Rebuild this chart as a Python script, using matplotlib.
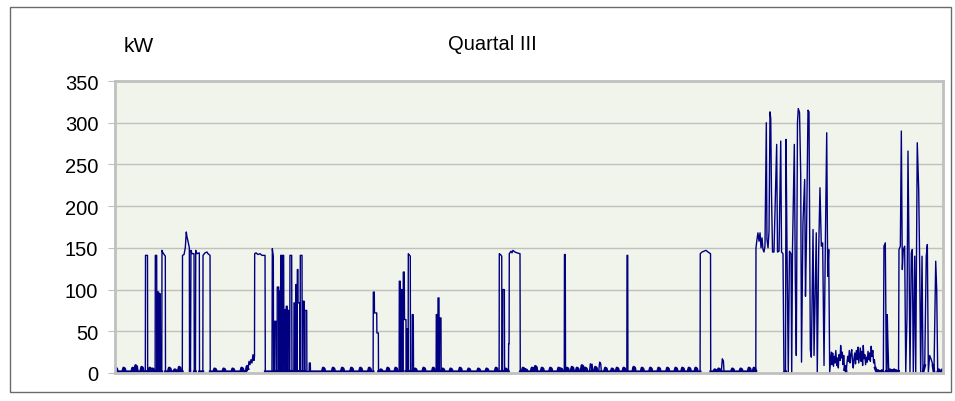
import numpy as np
import matplotlib.pyplot as plt
from matplotlib.patches import Rectangle

plt.rcParams['font.family'] = ['Liberation Sans', 'DejaVu Sans']

# Load profile, quarter III (time in days since 1 July, power in kW)
trace = [
    (0.00, 1.5),
    (3.37, 1.5), (3.39, 141), (3.61, 141), (3.63, 1.5),
    (4.46, 1.5), (4.48, 141), (4.63, 141), (4.66, 1.5),
    (4.68, 1.5), (4.70, 97), (4.86, 97), (4.87, 2), (4.88, 2), (4.89, 95), (5.03, 95), (5.06, 1.5),
    (5.20, 1.5), (5.22, 147), (5.33, 144), (5.59, 140), (5.61, 1.5),
    (7.48, 1.5), (7.50, 141), (7.67, 142), (7.81, 150), (7.92, 169), (8.00, 163), (8.11, 158),
    (8.26, 150), (8.28, 1.5), (8.33, 14), (8.39, 1.5), (8.44, 147), (8.56, 143), (8.78, 143),
    (8.81, 1.5), (8.94, 1.5), (8.97, 147), (9.11, 143), (9.37, 144), (9.39, 1.5),
    (9.76, 1.5), (9.78, 141), (10.00, 144), (10.22, 145), (10.33, 143), (10.56, 141), (10.58, 1.5),
    (14.56, 2), (14.67, 8), (14.78, 5), (14.89, 14), (15.00, 10), (15.11, 16), (15.22, 12),
    (15.33, 22), (15.44, 15), (15.50, 20), (15.52, 143), (15.67, 144), (15.89, 142), (16.11, 143),
    (16.33, 141), (16.67, 141), (16.70, 1.5),
    (17.44, 1.5), (17.48, 149), (17.59, 140), (17.62, 1.5),
    (17.72, 1.5), (17.74, 62), (17.89, 62), (17.92, 1.5),
    (18.01, 1.5), (18.03, 103), (18.19, 103), (18.21, 2), (18.23, 2), (18.26, 98), (18.37, 98),
    (18.39, 2), (18.40, 2), (18.41, 141), (18.52, 141), (18.54, 2),
    (18.61, 2), (18.63, 141), (18.74, 141), (18.77, 2),
    (18.87, 2), (18.89, 76), (19.00, 76), (19.01, 2), (19.02, 2), (19.03, 80), (19.14, 80),
    (19.16, 2), (19.17, 2), (19.19, 75), (19.33, 75), (19.36, 2),
    (19.42, 2), (19.44, 141), (19.63, 141), (19.66, 2),
    (19.87, 2), (19.89, 84), (20.00, 84), (20.02, 2), (20.06, 2), (20.08, 106), (20.19, 106),
    (20.21, 2), (20.23, 2), (20.26, 124), (20.33, 124), (20.34, 84), (20.52, 84), (20.54, 2),
    (20.57, 2), (20.59, 141), (20.78, 141), (20.80, 2),
    (20.87, 2), (20.89, 86), (21.03, 86), (21.06, 2), (21.09, 2), (21.11, 75), (21.30, 75),
    (21.32, 1), (21.57, 1), (21.59, 12), (21.70, 12), (21.72, 1.5),
    (28.68, 1.5), (28.70, 97), (28.81, 97), (28.83, 72), (29.08, 72), (29.10, 48), (29.26, 48),
    (29.28, 1.5),
    (31.57, 1.5), (31.59, 110), (31.70, 110), (31.72, 2), (31.76, 2), (31.78, 100), (31.92, 100),
    (31.94, 2), (32.01, 2), (32.03, 121), (32.14, 121), (32.17, 64), (32.33, 64), (32.36, 2),
    (32.39, 2), (32.41, 53), (32.52, 53), (32.54, 2), (32.57, 2), (32.59, 143), (32.81, 140),
    (32.83, 2), (33.01, 2), (33.03, 70), (33.14, 70), (33.17, 1.5),
    (35.68, 1.5), (35.70, 70), (35.81, 70), (35.83, 2), (35.87, 2), (35.89, 90), (36.00, 90),
    (36.02, 2), (36.06, 2), (36.08, 66), (36.22, 66), (36.24, 1.5),
    (42.68, 1.5), (42.70, 143), (42.83, 142), (42.97, 140), (42.99, 2), (43.06, 2), (43.08, 100),
    (43.26, 100), (43.28, 1.5), (43.72, 1.5), (43.74, 35), (43.79, 35), (43.81, 143),
    (44.00, 146), (44.11, 144), (44.22, 147), (44.44, 145), (44.67, 144), (45.00, 143), (45.03, 1.5),
    (49.92, 1.5), (49.94, 142), (50.03, 142), (50.06, 1.5),
    (56.87, 1.5), (56.89, 141), (56.97, 141), (56.99, 1.5),
    (65.01, 1.5), (65.03, 143), (65.22, 145), (65.44, 146), (65.67, 147), (65.89, 145),
    (66.17, 143), (66.19, 1.5),
    (71.20, 2), (71.22, 150), (71.33, 160), (71.44, 168), (71.56, 158), (71.67, 168), (71.78, 150),
    (71.89, 162), (72.00, 148), (72.11, 145), (72.22, 152), (72.37, 300), (72.44, 160),
    (72.56, 150), (72.67, 170), (72.78, 313), (72.86, 305), (72.94, 216), (73.06, 145),
    (73.22, 145), (73.52, 274), (73.61, 145), (73.78, 146), (73.97, 278), (74.06, 145),
    (74.22, 143), (74.33, 0), (74.50, 2), (74.56, 280), (74.67, 146), (74.81, 0), (74.94, 146),
    (75.11, 143), (75.19, 0), (75.28, 150), (75.48, 274), (75.59, 112), (75.70, 21),
    (75.83, 300), (75.92, 317), (76.06, 312), (76.19, 238), (76.28, 13), (76.44, 180),
    (76.63, 232), (76.72, 92), (76.83, 160), (77.00, 315), (77.11, 313), (77.19, 160),
    (77.26, 28), (77.37, 19), (77.56, 172), (77.67, 21), (77.92, 168), (78.03, 1),
    (78.19, 148), (78.33, 222), (78.48, 152), (78.63, 156), (78.78, 9), (78.92, 148),
    (79.08, 288), (79.19, 116), (79.30, 148), (79.41, 1), (79.59, 25),
    (79.67, 10), (79.74, 24), (79.83, 8), (79.92, 20), (80.00, 12), (80.09, 27), (80.19, 9),
    (80.28, 18), (80.37, 6), (80.44, 22), (80.56, 15), (80.63, 33), (80.72, 18), (80.81, 25),
    (80.89, 10), (80.97, 21), (81.06, 4), (81.14, 8), (81.24, 1), (81.33, 12), (81.41, 20),
    (81.50, 14), (81.59, 27), (81.67, 12), (81.76, 22), (81.86, 28), (81.94, 14), (82.03, 6),
    (82.11, 18), (82.20, 24), (82.28, 11), (82.37, 27), (82.47, 16), (82.56, 31), (82.64, 12),
    (82.73, 22), (82.81, 30), (82.89, 14), (82.98, 26), (83.07, 9), (83.14, 33), (83.22, 17),
    (83.31, 22), (83.40, 10), (83.49, 19), (83.58, 13), (83.67, 26), (83.76, 16), (83.84, 24),
    (83.93, 14), (84.02, 32), (84.11, 20), (84.20, 27), (84.29, 12), (84.38, 16), (84.47, 6),
    (84.56, 3), (84.67, 1), (84.78, 3), (84.89, 1), (85.00, 2), (85.11, 1), (85.22, 3),
    (85.37, 1), (85.44, 152), (85.59, 156), (85.67, 50), (85.70, 2), (85.78, 2), (85.81, 70),
    (85.87, 40), (85.97, 2), (86.11, 4), (86.22, 1), (86.33, 3), (86.44, 1), (86.56, 4),
    (86.67, 1), (86.78, 3), (86.89, 2), (87.06, 2), (87.11, 148), (87.26, 152), (87.37, 290),
    (87.48, 124), (87.59, 148), (87.74, 152), (87.86, 1), (88.00, 68), (88.11, 266),
    (88.22, 148), (88.33, 1), (88.48, 144), (88.59, 148), (88.70, 1), (88.86, 140), (88.97, 1),
    (89.14, 276), (89.30, 220), (89.41, 128), (89.52, 1), (89.67, 140), (89.78, 1), (89.97, 9),
    (90.14, 140), (90.26, 154), (90.37, 1), (90.52, 21), (90.70, 16), (90.89, 9), (91.00, 1),
    (91.19, 134), (91.30, 100), (91.41, 1), (91.52, 4), (91.74, 1), (91.92, 4), (92.00, 3),
]

# small daily base-load bumps during idle periods
bump_day = [0.11, 1.00, 2.00, 2.33, 3.00, 3.89, 4.22, 6.06, 6.67, 7.17, 11.11, 12.11, 13.11,
            14.11, 23.17, 24.26, 25.28, 26.30, 27.30, 28.28, 29.56, 30.33, 31.22, 33.37, 34.33,
            35.39, 36.44, 37.33, 38.37, 39.33, 40.41, 41.33, 42.37, 43.44, 45.37, 45.67, 46.37,
            46.74, 47.48, 48.41, 49.33, 49.59, 50.26, 50.81, 51.37, 51.92, 52.30, 52.86, 53.41,
            53.89, 54.52, 55.26, 55.81, 56.56, 57.67, 58.59, 59.52, 60.44, 61.41, 62.33, 63.08,
            63.81, 64.56, 66.67, 67.11, 67.52, 68.63, 69.56, 70.48, 71.03]
bump_kw = [6, 6, 6, 9, 7, 6, 5, 6, 4, 7, 5, 5, 5,
           6, 6, 6, 6, 6, 6, 6, 4, 6, 6, 5, 6,
           6, 5, 5, 6, 5, 5, 5, 6, 5, 6, 4, 6,
           8, 6, 6, 6, 5, 6, 7, 6, 9, 6, 11, 7,
           13, 6, 5, 6, 6, 7, 6, 6, 6, 6, 6, 6,
           6, 6, 4, 5, 17, 5, 5, 6, 6]

yticks = [0, 50, 100, 150, 200, 250, 300, 350]

points = list(trace)
for d, h in zip(bump_day, bump_kw):
    points += [(d - 0.15, 1.5), (d - 0.04, h), (d + 0.08, h * 0.85), (d + 0.15, 1.5)]
points.sort(key=lambda p: p[0])
x = np.array([p[0] for p in points])
y = np.array([p[1] for p in points])

fig = plt.figure(figsize=(9.55, 4.02), dpi=100)
fig.patches.append(Rectangle((10 / 955, 1 - 393 / 402), 941 / 955, 385 / 402,
                             transform=fig.transFigure, fill=False,
                             edgecolor='#6b6b6b', linewidth=1.0))

ax = fig.add_axes([115 / 955, 28 / 402, 828 / 955, 292 / 402])
ax.set_facecolor('#f1f4ea')
ax.plot(x, y, color='#000080', linewidth=1.0)
# the noisy base load reads as a heavier band near zero
base = np.where(y <= 10, y, np.nan)
ax.plot(x, base, color='#000080', linewidth=2.0)
ax.set_xlim(0, 92)
ax.set_ylim(0, 350)
ax.set_yticks(yticks)
ax.set_xticks([])
ax.grid(axis='y', color='#c0c0c0', linewidth=1.0)
ax.set_axisbelow(True)
for s in ax.spines.values():
    s.set_color('#c0c0c0')
    s.set_linewidth(2.0)
ax.tick_params(axis='y', length=5, color='#c0c0c0', labelsize=14.5, pad=7)

fig.text(124 / 955, 1 - 47 / 402, 'kW', fontsize=15, va='center', ha='left')
fig.text(492 / 955, 1 - 45 / 402, 'Quartal III', fontsize=14.5, va='center', ha='center')

fig.savefig('out.png', dpi=100)
